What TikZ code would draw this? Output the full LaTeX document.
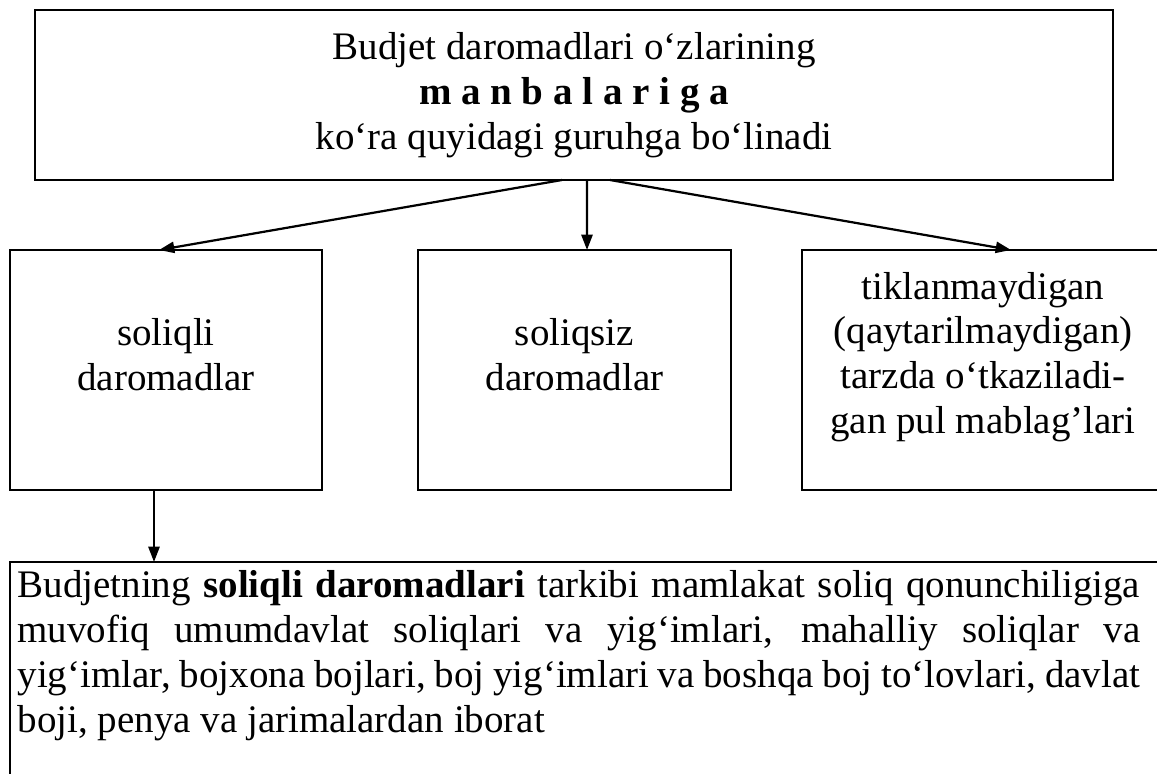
\documentclass[tikz,border=0pt]{standalone}
\usepackage{fontspec}
\setmainfont{Liberation Serif}
\usetikzlibrary{arrows.meta,calc}
\newcommand\pxl{0.359pt}
\begin{document}
\begin{tikzpicture}[x=0.359pt,y=-0.359pt,
  box/.style={draw,line width=0.8pt,inner sep=0pt,outer sep=0pt},
  txt/.style={font=\fontsize{14pt}{16.1pt}\selectfont,align=center,inner sep=0pt},
  arr/.style={line width=0.8pt,-{Triangle[length=5.5pt,width=4pt]}}]
\useasboundingbox (0,0) rectangle (1157,774);
\fill[white] (0,0) rectangle (1157,774);
\clip (0,0) rectangle (1157,774);
% top box
\node[box,txt,minimum width={1078*\pxl},minimum height={170*\pxl}] (top) at (574,95)
  {Budjet daromadlari o‘zlarining\\\textbf{m a n b a l a r i g a}\\ko‘ra quyidagi guruhga bo‘linadi};
% middle boxes
\node[box,minimum width={312*\pxl},minimum height={240*\pxl}] (b1) at (166,370) {};
\node[box,minimum width={313*\pxl},minimum height={240*\pxl}] (b2) at (574.5,370) {};
\node[box,minimum width={362*\pxl},minimum height={240*\pxl}] (b3) at (983,370) {};
\node[txt] (t1) at (166,355) {soliqli\\daromadlar};
\node[txt] (t2) at (574.5,355) {soliqsiz\\daromadlar};
\node[txt] (t3) at (983,357) {tiklanmaydigan\\(qaytarilmaydigan)\\tarzda o‘tkaziladi-\\gan pul mablag’lari};
% bottom box
\node[box,minimum width={1154*\pxl},minimum height={240*\pxl}] (b4) at (587,682) {};
\node[txt,anchor=base west,align=left] (t4) at (17,732)
  {\makebox[403pt][s]{Budjetning \textbf{soliqli daromadlari} tarkibi mamlakat soliq qonunchiligiga}\\
   \makebox[403pt][s]{muvofiq umumdavlat soliqlari va yig‘imlari, mahalliy soliqlar va}\\
   \makebox[403pt][s]{yig‘imlar, bojxona bojlari, boj yig‘imlari va boshqa boj to‘lovlari, davlat}\\
   \makebox[403pt][l]{boji, penya va jarimalardan iborat}};
% connectors
\draw[arr] ($(top.south)+(-12,0)$) -- ($(b1.north)+(-7,0)$);
\draw[arr] ($(top.south)+(13,0)$) -- ($(b2.north)+(12.5,0)$);
\draw[arr] ($(top.south)+(36,0)$) -- ($(b3.north)+(28,0)$);
\coordinate (s4) at ($(b1.south)+(-12,0)$);
\draw[arr] (s4) -- (s4 |- b4.north);
\end{tikzpicture}
\end{document}
